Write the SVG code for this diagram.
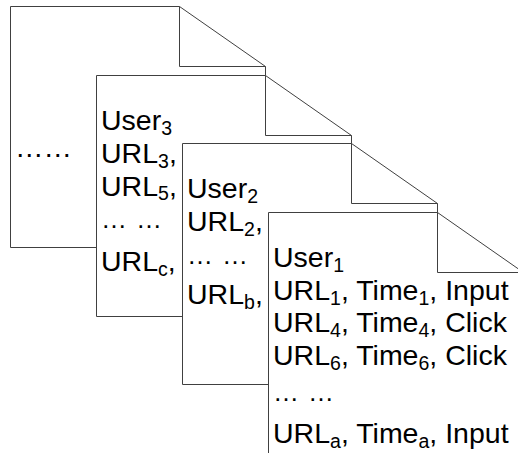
<svg xmlns="http://www.w3.org/2000/svg" width="518" height="453" viewBox="0 0 518 453">
<style>
.pg{fill:#fff;stroke:#404040;stroke-width:1}
.fd{fill:none;stroke:#404040;stroke-width:1}
text{font-family:"Liberation Sans",Arial,sans-serif;font-size:28.5px;fill:#000}
.s{font-size:19.5px}
.d{font-size:26px}
</style>
<rect width="518" height="453" fill="#fff"/>
<g id="page1">
<path class="pg" d="M10.5,6.5 H179.5 L265.5,66.5 V247.5 H10.5 Z"/>
<path class="fd" d="M179.5,6.5 V66.5 H265.5"/>
<text x="15" y="157">……</text>
</g>
<g id="page2">
<path class="pg" d="M96.5,75.5 H265.5 L351.5,135.5 V316.5 H96.5 Z"/>
<path class="fd" d="M265.5,75.5 V135.5 H351.5"/>
<text x="101" y="130">User<tspan class="s" dy="5">3</tspan></text>
<text x="101" y="163">URL<tspan class="s" dy="5">3</tspan><tspan dy="-5">,</tspan></text>
<text x="101" y="195.5">URL<tspan class="s" dy="4.5">5</tspan><tspan dy="-4.5">,</tspan></text>
<text class="d" x="101" y="228" textLength="61" lengthAdjust="spacing">… …</text>
<text x="101" y="271">URL<tspan class="s" dy="5">c</tspan><tspan dy="-5">,</tspan></text>
</g>
<g id="page3">
<path class="pg" d="M182.5,143.5 H351.5 L437.5,203.5 V384.5 H182.5 Z"/>
<path class="fd" d="M351.5,143.5 V203.5 H437.5"/>
<text x="187" y="198">User<tspan class="s" dy="5">2</tspan></text>
<text x="187" y="231">URL<tspan class="s" dy="4.5">2</tspan><tspan dy="-4.5">,</tspan></text>
<text class="d" x="187" y="263.5" textLength="61" lengthAdjust="spacing">… …</text>
<text x="187" y="304">URL<tspan class="s" dy="5">b</tspan><tspan dy="-5">,</tspan></text>
</g>
<g id="page4">
<path class="pg" d="M268.5,212.5 H437.5 L523.5,272.5 V454.5 H268.5 Z"/>
<path class="fd" d="M437.5,212.5 V272.5 H523.5"/>
<text x="273" y="266.5">User<tspan class="s" dy="5">1</tspan></text>
<text x="273" y="299.5">URL<tspan class="s" dy="5">1</tspan><tspan dy="-5">, Time</tspan><tspan class="s" dy="5">1</tspan><tspan dy="-5">, Input</tspan></text>
<text x="273" y="332">URL<tspan class="s" dy="5">4</tspan><tspan dy="-5">, Time</tspan><tspan class="s" dy="5">4</tspan><tspan dy="-5">, Click</tspan></text>
<text x="273" y="364.5">URL<tspan class="s" dy="5">6</tspan><tspan dy="-5">, Time</tspan><tspan class="s" dy="5">6</tspan><tspan dy="-5">, Click</tspan></text>
<text class="d" x="273" y="400.5" textLength="61" lengthAdjust="spacing">… …</text>
<text x="273" y="443">URL<tspan class="s" dy="5">a</tspan><tspan dy="-5">, Time</tspan><tspan class="s" dy="5">a</tspan><tspan dy="-5">, Input</tspan></text>
</g>
</svg>
